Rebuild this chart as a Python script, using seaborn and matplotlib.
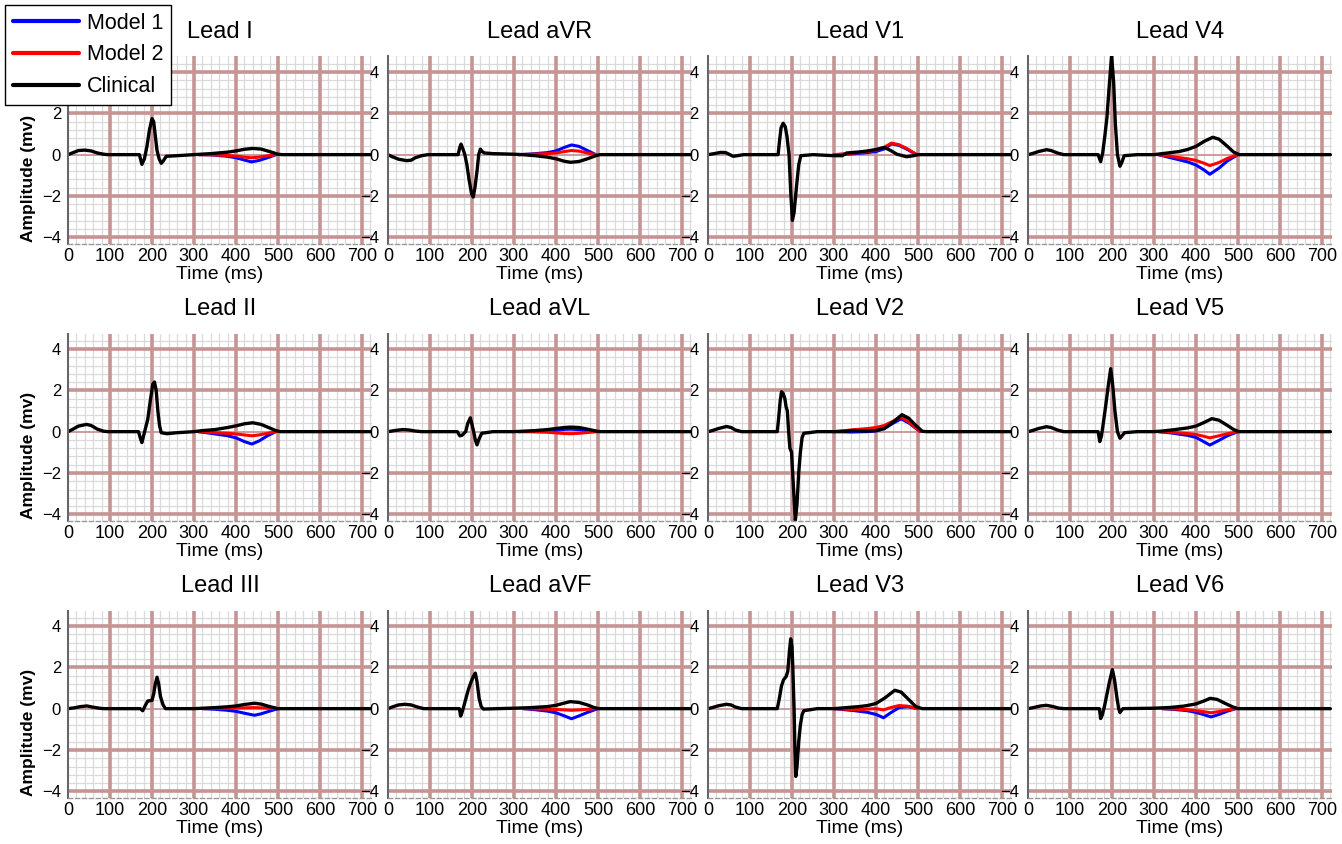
import numpy as np
import pandas as pd
import seaborn as sns
import matplotlib.pyplot as plt
from matplotlib.lines import Line2D

# ---- data (time in ms, amplitude in mV) ----
I_t = [0, 10, 25, 40, 55, 70, 85, 95, 170, 176, 182, 188, 194, 200, 204, 208, 212, 217, 222, 227, 234, 260, 300,
       340, 380, 400, 420, 440, 460, 480, 500, 510, 720]
I_clin = [0, 0.08, 0.2, 0.22, 0.18, 0.08, 0.02, 0, 0, -0.47, -0.2, 0.4, 1.2, 1.74, 1.6, 0.9, 0.2, -0.2, -0.42, -0.3,
          -0.08, -0.05, 0, 0.05, 0.12, 0.18, 0.26, 0.3, 0.27, 0.15, 0.02, 0, 0]
I_mt = [310, 340, 380, 400, 420, 437, 455, 475, 495]
I_m1 = [0, -0.01, -0.08, -0.15, -0.26, -0.35, -0.28, -0.15, 0]
I_m2 = [0, -0.01, -0.04, -0.07, -0.12, -0.15, -0.12, -0.06, 0]

aVR_t = [0, 10, 25, 44, 55, 65, 80, 95, 167, 171, 174, 178, 183, 188, 193, 199, 203, 207, 212, 216, 220, 224, 230,
         250, 300, 320, 350, 380, 400, 420, 435, 455, 475, 495, 505, 720]
aVR_clin = [0, -0.1, -0.22, -0.29, -0.27, -0.15, -0.05, 0, 0, 0.35, 0.51, 0.3, 0, -0.5, -1.2, -1.9, -2.05, -1.6, -0.8,
            0, 0.27, 0.15, 0.08, 0.05, 0.02, 0, -0.05, -0.12, -0.2, -0.32, -0.37, -0.33, -0.2, -0.05, 0, 0]
aVR_mt = [310, 340, 380, 400, 420, 437, 455, 475, 495]
aVR_m1 = [0, 0.03, 0.1, 0.18, 0.35, 0.47, 0.4, 0.2, 0]
aVR_m2 = [0, 0.02, 0.05, 0.08, 0.15, 0.2, 0.17, 0.08, 0]

V1_t = [0, 15, 30, 42, 52, 60, 70, 85, 167, 170, 174, 179, 184, 188, 193, 197, 201, 205, 211, 216, 221, 250, 300,
        320, 330, 360, 380, 400, 420, 435, 450, 473, 490, 500, 720]
V1_clin = [0, 0.05, 0.11, 0.1, 0.0, -0.08, -0.05, 0, 0, 0.6, 1.3, 1.52, 1.35, 0.9, 0, -1.8, -3.18, -2.8, -1.5, -0.5,
           -0.05, 0, -0.05, -0.05, 0.08, 0.13, 0.18, 0.25, 0.35, 0.2, 0.02, -0.1, -0.05, 0, 0]
V1_mt = [300, 340, 380, 400, 420, 437, 455, 475, 497]
V1_m1 = [0, 0.03, 0.1, 0.15, 0.28, 0.52, 0.45, 0.25, 0]
V1_m2 = [0, 0.06, 0.15, 0.22, 0.36, 0.56, 0.48, 0.28, 0]

V4_t = [0, 10, 25, 44, 55, 70, 85, 167, 173, 178, 183, 188, 193, 199, 204, 208, 213, 219, 224, 229, 260, 300,
        320, 340, 360, 380, 400, 420, 440, 455, 475, 490, 503, 720]
V4_clin = [0, 0.05, 0.15, 0.24, 0.2, 0.08, 0, 0, -0.34, 0.1, 0.9, 1.8, 3.2, 4.8, 3.5, 1.5, 0, -0.56, -0.35, -0.05, 0, 0,
           0.05, 0.1, 0.15, 0.25, 0.4, 0.65, 0.84, 0.75, 0.4, 0.12, 0, 0]
V4_mt = [310, 340, 380, 400, 420, 433, 455, 475, 500]
V4_m1 = [0, -0.15, -0.35, -0.5, -0.75, -0.95, -0.65, -0.3, 0]
V4_m2 = [0, -0.08, -0.2, -0.28, -0.42, -0.53, -0.38, -0.18, 0]

II_t = [0, 10, 25, 44, 55, 70, 85, 95, 168, 172, 176, 180, 185, 190, 196, 202, 206, 210, 214, 218, 222, 235, 260,
        300, 320, 350, 380, 400, 420, 440, 460, 480, 495, 505, 720]
II_clin = [0, 0.1, 0.27, 0.35, 0.3, 0.12, 0.02, 0, 0, -0.3, -0.53, -0.2, 0.2, 0.6, 1.5, 2.3, 2.4, 2.0, 1.0, 0.3, -0.05,
           -0.1, -0.05, 0, 0.05, 0.1, 0.2, 0.28, 0.38, 0.43, 0.35, 0.18, 0.05, 0, 0]
II_mt = [310, 340, 380, 400, 420, 438, 455, 475, 495]
II_m1 = [0, -0.08, -0.2, -0.3, -0.48, -0.6, -0.45, -0.2, 0]
II_m2 = [0, -0.04, -0.08, -0.11, -0.16, -0.2, -0.16, -0.08, 0]

aVL_t = [0, 15, 35, 50, 65, 80, 165, 171, 176, 185, 190, 196, 200, 204, 208, 212, 216, 223, 250, 300, 350, 380,
         400, 420, 435, 455, 475, 495, 505, 720]
aVL_clin = [0, 0.05, 0.1, 0.08, 0.03, 0, 0, -0.2, -0.18, 0, 0.4, 0.67, 0.35, 0, -0.4, -0.64, -0.4, -0.08, 0, 0, 0.05,
            0.1, 0.15, 0.2, 0.22, 0.2, 0.12, 0.03, 0, 0]
aVL_mt = [310, 340, 380, 400, 420, 435, 455, 475, 500]
aVL_m1 = [0, 0.01, 0.04, 0.07, 0.11, 0.12, 0.1, 0.05, 0]
aVL_m2 = [0, -0.01, -0.03, -0.06, -0.09, -0.1, -0.08, -0.04, 0]

V2_t = [0, 10, 25, 44, 55, 65, 80, 165, 168, 172, 175, 179, 183, 186, 189, 192, 195, 199, 203, 208, 212, 216, 220,
        224, 228, 260, 300, 330, 345, 370, 400, 420, 440, 462, 478, 495, 510, 520, 720]
V2_clin = [0, 0.05, 0.15, 0.25, 0.2, 0.08, 0, 0, 0.6, 1.5, 1.93, 1.85, 1.6, 1.2, 1.0, 0, -0.8, -1.0, -2.5, -4.3, -3.5,
           -2.0, -1.0, -0.3, -0.08, 0, 0, 0.02, 0.06, 0.03, 0.05, 0.15, 0.45, 0.82, 0.65, 0.3, 0.02, 0, 0]
V2_mt = [300, 340, 380, 400, 420, 440, 460, 480, 505]
V2_m1 = [0, -0.02, 0, 0.03, 0.15, 0.4, 0.62, 0.4, 0]
V2_m2 = [0, 0.08, 0.15, 0.2, 0.3, 0.5, 0.7, 0.45, 0]

V5_t = [0, 10, 25, 44, 55, 70, 85, 167, 171, 175, 180, 185, 191, 197, 202, 207, 213, 219, 224, 230, 260, 300,
        320, 350, 380, 400, 420, 438, 455, 475, 490, 502, 720]
V5_clin = [0, 0.05, 0.15, 0.24, 0.2, 0.08, 0, 0, -0.48, -0.2, 0.5, 1.25, 2.2, 3.05, 2.2, 1.0, 0, -0.32, -0.2, -0.05, 0,
           0, 0.03, 0.1, 0.18, 0.27, 0.45, 0.63, 0.55, 0.3, 0.1, 0, 0]
V5_mt = [310, 340, 380, 400, 420, 433, 455, 475, 500]
V5_m1 = [0, -0.06, -0.18, -0.28, -0.5, -0.65, -0.42, -0.2, 0]
V5_m2 = [0, -0.03, -0.09, -0.14, -0.23, -0.3, -0.2, -0.1, 0]

III_t = [0, 15, 30, 45, 60, 75, 85, 172, 178, 184, 190, 200, 204, 208, 212, 216, 220, 226, 232, 300, 350, 380, 400,
         420, 444, 460, 480, 500, 720]
III_clin = [0, 0.04, 0.1, 0.13, 0.07, 0.02, 0, 0, -0.1, 0.15, 0.37, 0.4, 0.7, 1.2, 1.52, 1.2, 0.6, 0.2, 0, 0, 0.05,
            0.09, 0.13, 0.2, 0.26, 0.22, 0.1, 0, 0]
III_mt = [320, 350, 380, 400, 420, 444, 460, 480, 500]
III_m1 = [0, -0.03, -0.08, -0.13, -0.22, -0.32, -0.25, -0.12, 0]
III_m2 = [0, 0.01, 0.02, 0.03, 0.04, 0.05, 0.04, 0.02, 0]

aVF_t = [0, 10, 25, 40, 55, 70, 85, 170, 173, 176, 179, 185, 191, 197, 203, 208, 212, 217, 222, 227, 260, 300,
         340, 380, 400, 420, 434, 455, 475, 490, 502, 720]
aVF_clin = [0, 0.08, 0.18, 0.21, 0.18, 0.08, 0, 0, -0.36, -0.2, 0, 0.45, 0.9, 1.25, 1.55, 1.72, 1.3, 0.5, 0.1, -0.02,
            0, 0.02, 0.05, 0.1, 0.16, 0.27, 0.34, 0.3, 0.18, 0.06, 0, 0]
aVF_mt = [322, 350, 380, 400, 420, 437, 455, 475, 500]
aVF_m1 = [0, -0.05, -0.12, -0.2, -0.35, -0.49, -0.35, -0.18, 0]
aVF_m2 = [0, -0.01, -0.03, -0.04, -0.06, -0.08, -0.06, -0.03, 0]

V3_t = [0, 10, 25, 44, 55, 65, 80, 165, 170, 175, 180, 186, 190, 194, 197, 200, 202, 205, 207, 209, 212, 216, 220,
        224, 228, 260, 300, 330, 360, 380, 400, 420, 445, 460, 480, 495, 510, 720]
V3_clin = [0, 0.05, 0.14, 0.21, 0.18, 0.08, 0, 0, 0.5, 1.1, 1.4, 1.55, 1.8, 2.8, 3.38, 3.0, 2.0, 0, -2.0, -3.28, -2.8,
           -1.6, -0.8, -0.3, -0.1, 0, 0, 0.05, 0.1, 0.15, 0.25, 0.5, 0.89, 0.8, 0.4, 0.1, 0, 0]
V3_mt = [300, 350, 380, 400, 418, 435, 455, 475, 500]
V3_m1 = [0, -0.1, -0.18, -0.28, -0.44, -0.2, 0.05, 0.1, 0]
V3_m2 = [0, -0.05, -0.02, 0, -0.06, 0.05, 0.15, 0.12, 0]

V6_t = [0, 15, 30, 44, 60, 72, 85, 170, 173, 177, 182, 187, 194, 201, 206, 212, 216, 219, 222, 226, 300,
        340, 370, 400, 420, 434, 450, 470, 488, 500, 720]
V6_clin = [0, 0.06, 0.13, 0.16, 0.1, 0.03, 0, 0, -0.48, -0.3, 0.1, 0.6, 1.3, 1.89, 1.4, 0.5, 0, -0.19, -0.1, 0, 0.02,
           0.06, 0.12, 0.23, 0.38, 0.5, 0.45, 0.25, 0.08, 0, 0]
V6_mt = [320, 350, 380, 400, 420, 436, 455, 475, 495]
V6_m1 = [0, -0.04, -0.1, -0.18, -0.3, -0.4, -0.28, -0.12, 0]
V6_m2 = [0, -0.02, -0.05, -0.1, -0.15, -0.2, -0.14, -0.06, 0]

layout = [
    [('I', I_t, I_clin, I_mt, I_m1, I_m2), ('aVR', aVR_t, aVR_clin, aVR_mt, aVR_m1, aVR_m2),
     ('V1', V1_t, V1_clin, V1_mt, V1_m1, V1_m2), ('V4', V4_t, V4_clin, V4_mt, V4_m1, V4_m2)],
    [('II', II_t, II_clin, II_mt, II_m1, II_m2), ('aVL', aVL_t, aVL_clin, aVL_mt, aVL_m1, aVL_m2),
     ('V2', V2_t, V2_clin, V2_mt, V2_m1, V2_m2), ('V5', V5_t, V5_clin, V5_mt, V5_m1, V5_m2)],
    [('III', III_t, III_clin, III_mt, III_m1, III_m2), ('aVF', aVF_t, aVF_clin, aVF_mt, aVF_m1, aVF_m2),
     ('V3', V3_t, V3_clin, V3_mt, V3_m1, V3_m2), ('V6', V6_t, V6_clin, V6_mt, V6_m1, V6_m2)],
]

sns.set_theme(style='white')
plt.rcParams['font.family'] = ['Liberation Sans', 'DejaVu Sans']
plt.rcParams.update({'text.color': 'black', 'axes.labelcolor': 'black',
                     'xtick.color': 'black', 'ytick.color': 'black'})

major_col = '#c79494'
minor_col = '#dadada'
c_m1, c_m2, c_clin = '#0000ff', '#ff0000', '#000000'
line_kw = dict(estimator=None, sort=False, solid_joinstyle='round', solid_capstyle='round')

# ECG paper grid: light lines every 20 ms / 0.4 mV, heavy every 100 ms / 2 mV
minor_x = [x for x in range(20, 721, 20) if x % 100]
minor_y = [round(-4.0 + 0.4 * k, 1) for k in range(23) if (k % 5)]
major_x = list(range(100, 701, 100))
major_y = [-4, -2, 2, 4]

W, H = 1342, 844
fig = plt.figure(figsize=(W / 100, H / 100), dpi=100)

ax_w, ax_h = 304 / W, 187 / H
for r, row in enumerate(layout):
    top_px = 56.5 + r * 277
    for c, (name, t, clin, mt, m1, m2) in enumerate(row):
        left_px = 68 + c * 320
        ax = fig.add_axes([left_px / W, 1 - (top_px + 187) / H, ax_w, ax_h])
        ax.patch.set_alpha(0)

        for xv in minor_x:
            ax.axvline(xv, color=minor_col, linewidth=0.9, zorder=0.2)
        for yv in minor_y:
            ax.axhline(yv, color=minor_col, linewidth=0.9, zorder=0.2)
        for xv in major_x:
            ax.axvline(xv, color=major_col, linewidth=2.6, zorder=0.3)
        for yv in major_y:
            ax.axhline(yv, color=major_col, linewidth=2.6, zorder=0.3)
        ax.axhline(0, color=major_col, linewidth=1.3, zorder=0.3)

        sns.lineplot(x=mt, y=m1, ax=ax, color=c_m1, linewidth=2.2, **line_kw)
        sns.lineplot(x=mt, y=m2, ax=ax, color=c_m2, linewidth=2.2, **line_kw)
        sns.lineplot(x=t, y=clin, ax=ax, color=c_clin, linewidth=2.4, **line_kw)

        ax.set_xlim(0, 724)
        ax.set_ylim(-4.3, 4.75)
        ax.set_xticks(range(0, 701, 100))
        ax.set_yticks([-4, -2, 0, 2, 4])
        ax.set_axisbelow(True)
        ax.grid(False)

        for s in ['top', 'right']:
            ax.spines[s].set_visible(False)
        ax.spines['left'].set_color('#666666')
        ax.spines['left'].set_linewidth(1.5)
        ax.spines['bottom'].set_color('#999999')
        ax.spines['bottom'].set_linewidth(1.0)
        ax.spines['bottom'].set_linestyle((0, (3, 2)))

        ax.tick_params(axis='x', length=0, pad=3, labelsize=13)
        ax.tick_params(axis='y', length=0, pad=5, labelsize=12,
                       left=False, right=False, labelleft=(c == 0), labelright=(c < 3))
        for tk in ax.yaxis.get_major_ticks():
            tk.label2.set_horizontalalignment('right')
        ax.set_title(f'Lead {name}', fontsize=17, pad=13)
        ax.set_xlabel('Time (ms)', fontsize=14, labelpad=1)
        if c == 0:
            ax.set_ylabel('Amplitude (mv)', fontsize=12.5, fontweight='bold')
            ax.yaxis.set_label_coords(-0.105, 0.35)
        else:
            ax.set_ylabel('')

handles = [Line2D([], [], color=c_m1, linewidth=3),
           Line2D([], [], color=c_m2, linewidth=3),
           Line2D([], [], color=c_clin, linewidth=3)]
fig.legend(handles, ['Model 1', 'Model 2', 'Clinical'], loc='upper left',
           bbox_to_anchor=(5 / W, 1 - 5 / H), borderaxespad=0, fontsize=15.5,
           frameon=True, fancybox=False, edgecolor='black', framealpha=1,
           handlelength=3.1, handletextpad=0.35, labelspacing=0.5, borderpad=0.35)

fig.savefig('out.png', dpi=100)
